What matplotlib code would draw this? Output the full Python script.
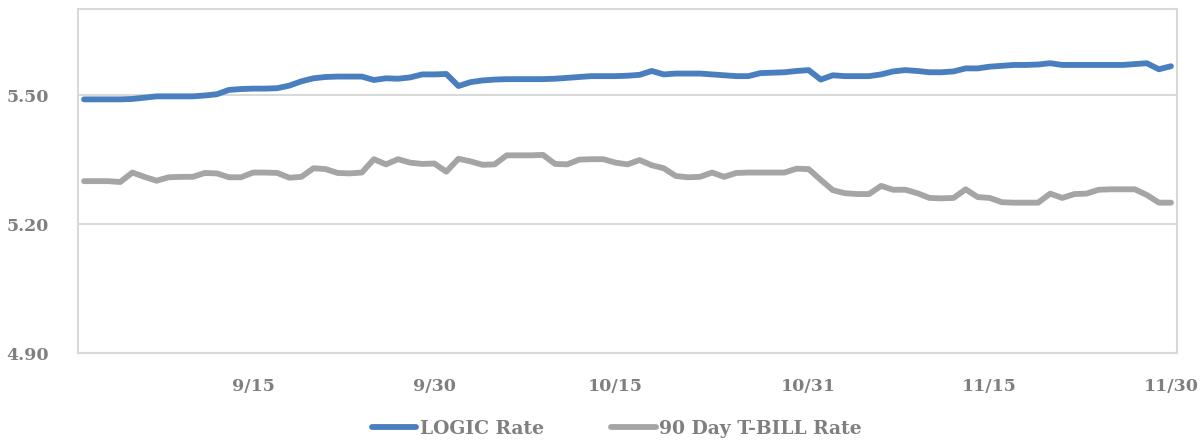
import matplotlib
matplotlib.use("Agg")
import matplotlib.pyplot as plt
import numpy as np
import pandas as pd

dates = pd.date_range("2023-09-01", "2023-11-30", freq="D")

logic_rate = [
    5.490, 5.490, 5.490, 5.490, 5.491, 5.494, 5.497, 5.497, 5.497, 5.497,
    5.499, 5.502, 5.512, 5.514, 5.515, 5.515, 5.516, 5.522, 5.532, 5.539,
    5.542, 5.543, 5.543, 5.543, 5.535, 5.539, 5.538, 5.541, 5.548, 5.548,
    5.549, 5.521, 5.530, 5.534, 5.536, 5.537, 5.537, 5.537, 5.537, 5.538,
    5.540, 5.542, 5.544, 5.544, 5.544, 5.545, 5.547, 5.556, 5.548, 5.550,
    5.550, 5.550, 5.548, 5.546, 5.544, 5.544, 5.551, 5.552, 5.553, 5.556,
    5.558, 5.536, 5.546, 5.544, 5.544, 5.544, 5.548, 5.555, 5.558, 5.556,
    5.553, 5.553, 5.555, 5.562, 5.562, 5.566, 5.568, 5.570, 5.570, 5.571,
    5.574, 5.570, 5.570, 5.570, 5.570, 5.570, 5.570, 5.572, 5.574, 5.560,
    5.567,
]

tbill_rate = [
    5.300, 5.300, 5.300, 5.298, 5.320, 5.310, 5.301, 5.309, 5.310, 5.310,
    5.319, 5.318, 5.309, 5.309, 5.320, 5.320, 5.319, 5.308, 5.310, 5.330,
    5.328, 5.319, 5.318, 5.320, 5.351, 5.339, 5.351, 5.343, 5.340, 5.341,
    5.322, 5.352, 5.346, 5.338, 5.339, 5.360, 5.360, 5.360, 5.361, 5.340,
    5.339, 5.350, 5.351, 5.351, 5.343, 5.339, 5.349, 5.337, 5.330, 5.312,
    5.309, 5.310, 5.320, 5.310, 5.319, 5.320, 5.320, 5.320, 5.320, 5.329,
    5.328, 5.303, 5.279, 5.272, 5.270, 5.270, 5.289, 5.280, 5.280, 5.272,
    5.261, 5.260, 5.261, 5.281, 5.263, 5.261, 5.251, 5.250, 5.250, 5.250,
    5.271, 5.261, 5.270, 5.271, 5.280, 5.281, 5.281, 5.281, 5.268, 5.250,
    5.250,
]

series_names = ["LOGIC Rate", "90 Day T-BILL Rate"]
x_tick_dates = ["2023-09-15", "2023-09-30", "2023-10-15", "2023-10-31", "2023-11-15", "2023-11-30"]
x_tick_labels = ["9/15", "9/30", "10/15", "10/31", "11/15", "11/30"]
y_ticks = [4.90, 5.20, 5.50]

FONT = ["DejaVu Serif"]
TXT = "#7f7f7f"
GRID = "#d9d9d9"

fig = plt.figure(figsize=(12.01, 4.43), dpi=100)
ax = fig.add_axes([78 / 1201, 1 - 353.3 / 443, (1177 - 78) / 1201, (353.3 - 9) / 443])

ax.plot(dates, logic_rate, color="#4a7fbf", lw=4.2, solid_capstyle="round",
        solid_joinstyle="round", label=series_names[0], zorder=3)
ax.plot(dates, tbill_rate, color="#a5a5a5", lw=4.2, solid_capstyle="round",
        solid_joinstyle="round", label=series_names[1], zorder=3)

ax.set_xlim(dates[0] - pd.Timedelta(hours=12), dates[-1] + pd.Timedelta(hours=12))
ax.set_ylim(4.90, 5.70)

ax.set_yticks(y_ticks)
ax.set_yticklabels([f"{v:.2f}" for v in y_ticks])
ax.set_xticks(pd.to_datetime(x_tick_dates))
ax.set_xticklabels(x_tick_labels)

ax.yaxis.grid(True, color=GRID, lw=1.5)
ax.set_axisbelow(True)
for s in ax.spines.values():
    s.set_color(GRID)
    s.set_linewidth(1.5)

ax.tick_params(axis="both", length=0, labelcolor=TXT, labelsize=12.5)
ax.tick_params(axis="y", pad=21)
ax.tick_params(axis="x", pad=18)
for lab in ax.get_xticklabels() + ax.get_yticklabels():
    lab.set_family(FONT)
    lab.set_fontweight("bold")

leg = fig.legend(loc="center", bbox_to_anchor=(617 / 1201, 1 - 429 / 443), ncol=2,
                 frameon=False, handlelength=2.35, handletextpad=0.2, columnspacing=3.6,
                 prop={"family": FONT, "weight": "bold", "size": 13.5})
for t in leg.get_texts():
    t.set_color(TXT)
for h in leg.get_lines():
    h.set_linewidth(4.2)
    h.set_solid_capstyle("round")

fig.savefig("out.png", dpi=100)
